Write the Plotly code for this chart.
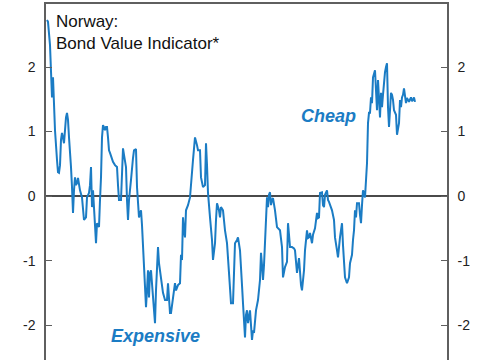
import plotly.graph_objects as go

# Month offsets from the start of the series and Bond Value Indicator readings
month_index = [0, 1, 3, 4, 5, 6, 7, 8, 10, 11, 12, 13, 14, 15, 17, 18, 19, 20, 21, 22, 23, 24, 25, 26, 27, 28, 29, 30, 31, 32, 33, 35, 36, 37, 39, 40, 42, 43, 44, 45, 46, 47, 48, 49, 50, 51, 52, 53, 54, 55, 56, 57, 58, 59, 60, 61, 62, 63, 65, 66, 68, 70, 71, 72, 74, 75, 76, 77, 79, 80, 81, 82, 83, 84, 86, 87, 89, 90, 92, 94, 95, 96, 97, 98, 99, 100, 101, 102, 103, 104, 105, 106, 107, 108, 109, 110, 111, 112, 114, 116, 118, 120, 121, 122, 123, 124, 126, 128, 129, 131, 133, 134, 135, 136, 137, 138, 139, 141, 143, 144, 146, 148, 149, 150, 151, 153, 154, 156, 158, 159, 160, 161, 163, 165, 166, 168, 169, 170, 172, 173, 174, 176, 178, 180, 182, 183, 184, 186, 187, 188, 190, 191, 193, 194, 195, 196, 197, 198, 199, 200, 201, 202, 203, 204, 205, 206, 207, 209, 211, 213, 214, 215, 216, 217, 218, 219, 220, 221, 222, 223, 224, 225, 226, 228, 230, 233, 235, 236, 237, 238, 240, 241, 242, 243, 245, 247, 248, 250, 252, 253, 254, 255, 257, 258, 260, 261, 262, 263, 265, 266, 267, 268, 270, 271, 272, 273, 275, 276, 277, 278, 280, 281, 282, 283, 285, 287, 288, 290, 291, 293, 295, 296, 297, 298, 300, 302, 303, 305, 306, 307, 308, 309, 310, 312, 313, 314, 315, 316, 318, 319, 320, 321, 322, 323, 324, 325, 326, 328, 329, 330, 331, 332, 333, 334, 335, 336, 337, 338, 339, 340, 341, 342, 343, 344, 345, 346, 347, 349, 350, 351, 352, 353, 354, 355, 356, 357, 358, 359, 360, 361, 362, 363, 364, 365, 366, 367, 368]
bvi_values = [2.73, 2.70, 2.34, 1.95, 1.53, 1.84, 1.41, 1.02, 0.56, 0.37, 0.36, 0.48, 0.87, 0.98, 0.82, 1.10, 1.22, 1.29, 1.18, 0.91, 0.71, 0.45, 0.14, -0.26, 0.09, 0.29, 0.17, 0.20, 0.28, 0.16, 0.09, -0.02, -0.22, -0.37, -0.33, -0.02, 0.05, 0.17, 0.45, -0.17, 0.09, -0.11, -0.45, -0.73, -0.42, -0.45, -0.48, -0.06, 0.29, 0.91, 1.10, 1.07, 1.02, 1.07, 1.07, 0.91, 0.71, 0.67, 0.56, 0.53, 0.48, 0.45, 0.17, -0.06, -0.06, 0.33, 0.74, 0.64, 0.45, -0.06, -0.37, -0.06, 0.17, 0.25, 0.59, 0.71, 0.73, 0.14, -0.33, -0.22, -0.45, -0.73, -1.10, -1.30, -1.72, -1.46, -1.15, -1.57, -1.19, -1.15, -1.38, -1.57, -1.77, -1.97, -1.46, -0.99, -0.79, -1.04, -1.26, -1.50, -1.61, -1.61, -1.35, -1.61, -1.81, -1.81, -1.61, -1.35, -1.46, -1.38, -1.35, -0.91, -0.99, -0.33, -0.53, -0.64, -0.22, -0.14, -0.02, 0.20, 0.56, 0.91, 0.82, 0.79, 0.71, 0.71, 0.29, 0.14, 0.17, 0.82, 0.48, 0.05, -0.33, -0.68, -0.99, -0.73, -0.37, -0.11, -0.22, -0.33, -0.17, -0.22, -0.53, -0.73, -1.19, -1.41, -1.66, -1.66, -1.15, -0.73, -0.68, -0.64, -0.84, -1.04, -1.38, -1.66, -1.92, -2.19, -1.84, -1.77, -1.97, -1.89, -1.77, -2.00, -2.23, -2.08, -2.12, -1.77, -1.61, -1.30, -0.88, -1.07, -1.30, -1.07, -0.73, -0.29, -0.02, -0.17, 0.02, 0.06, -0.14, -0.06, -0.03, -0.22, -0.48, -0.53, -0.79, -1.26, -1.15, -1.10, -1.02, -0.42, -0.60, -0.79, -0.79, -0.81, -0.84, -1.19, -0.96, -1.26, -1.38, -1.46, -1.15, -0.84, -0.53, -0.65, -0.64, -0.57, -0.73, -0.60, -0.53, -0.50, -0.26, -0.34, -0.33, 0.05, 0.06, -0.14, -0.17, 0.02, 0.09, -0.06, -0.09, -0.14, -0.22, -0.37, -0.64, -0.84, -0.95, -0.64, -0.42, -0.76, -0.99, -1.26, -1.35, -1.26, -1.04, -0.91, -0.68, -0.53, -0.22, -0.33, -0.11, -0.11, -0.29, -0.42, -0.14, 0.09, -0.02, 0.29, 0.51, 1.13, 1.29, 1.29, 1.53, 1.44, 1.84, 1.95, 1.69, 1.33, 1.80, 1.53, 1.22, 1.60, 1.38, 1.57, 1.84, 1.92, 2.00, 2.06, 1.38, 1.07, 1.33, 1.60, 1.57, 1.49, 1.33, 1.26, 0.95, 1.02, 1.13, 1.49, 1.38, 1.53, 1.57, 1.67, 1.49, 1.44, 1.52, 1.49, 1.46, 1.50, 1.53, 1.47, 1.49, 1.53, 1.46]

y_ticks = [-2, -1, 0, 1, 2]
y_tick_labels = ["-2", "-1", "0", "1", "2"]
title_text = "Norway:<br>Bond Value Indicator*"
cheap_label = "Cheap"
expensive_label = "Expensive"

LINE_COLOR = "#1b7cc4"
AXIS_COLOR = "#5f5f5f"
FONT = "Liberation Sans, Arial, sans-serif"
Y_RANGE = [-2.54, 2.977]

fig = go.Figure()
fig.add_trace(go.Scatter(x=month_index, y=bvi_values, mode="lines",
                         line=dict(color=LINE_COLOR, width=2), hoverinfo="skip",
                         showlegend=False))
# invisible companion trace so the right-hand axis renders
fig.add_trace(go.Scatter(x=month_index, y=bvi_values, mode="lines", yaxis="y2",
                         line=dict(color="rgba(0,0,0,0)", width=0), hoverinfo="skip",
                         showlegend=False))

axis_common = dict(range=Y_RANGE, tickvals=y_ticks, ticktext=y_tick_labels,
                   ticks="inside", ticklen=6, tickwidth=1, tickcolor=AXIS_COLOR,
                   showline=True, linecolor=AXIS_COLOR, linewidth=1.5,
                   showgrid=False, tickfont=dict(family=FONT, size=14, color="#222"),
                   ticklabelstandoff=6, fixedrange=True)

fig.update_layout(
    width=485, height=360,
    margin=dict(l=46, r=38, t=4, b=0),
    paper_bgcolor="white", plot_bgcolor="white",
    xaxis=dict(range=[-1, 400], side="top", showline=True, linecolor=AXIS_COLOR,
               linewidth=1.5, showticklabels=False, ticks="", showgrid=False,
               zeroline=False, fixedrange=True),
    yaxis=dict(**axis_common, side="left", zeroline=True, zerolinecolor="#4a4a4a",
               zerolinewidth=2),
    yaxis2=dict(**axis_common, side="right", overlaying="y", zeroline=False),
    annotations=[
        dict(text=title_text, xref="paper", yref="paper", x=0.02, y=0.982,
             xanchor="left", yanchor="top", showarrow=False, align="left",
             font=dict(family=FONT, size=17, color="#111")),
        dict(text="<b><i>" + cheap_label + "</i></b>", xref="x", yref="y",
             x=281, y=1.24, showarrow=False,
             font=dict(family=FONT, size=18, color=LINE_COLOR)),
        dict(text="<b><i>" + expensive_label + "</i></b>", xref="x", yref="y",
             x=108, y=-2.17, showarrow=False,
             font=dict(family=FONT, size=18, color=LINE_COLOR)),
    ],
)

fig.write_html("out.html", config={"displayModeBar": False},
               post_script="document.body.style.margin='0';")
